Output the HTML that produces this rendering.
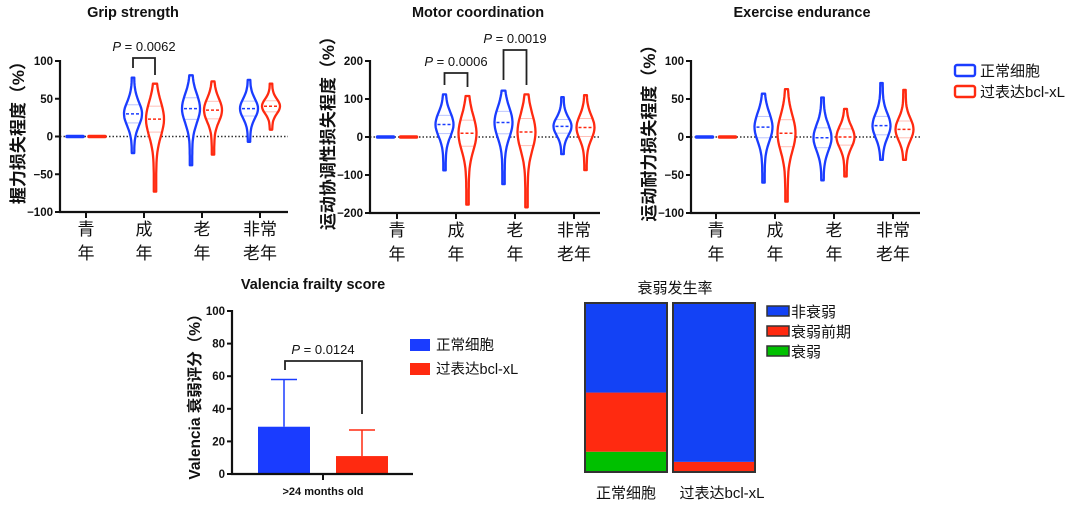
<!DOCTYPE html>
<html><head><meta charset="utf-8">
<style>
html,body{margin:0;padding:0;background:#fff;}
svg{display:block;font-family:"Liberation Sans","Noto Sans CJK SC",sans-serif;}
</style></head>
<body>
<svg id="fig" width="1080" height="505" viewBox="0 0 1080 505" xmlns="http://www.w3.org/2000/svg"></svg>
<script>
// ---- data ----
const ageGroups = [["青","年"],["成","年"],["老","年"],["非常","老年"]];
const gripBlue  = [[-2,2,0],[-22,78,30],[-38,81,37],[-7,75,37]];   // [min,max,median]
const gripRed   = [[-2,2,0],[-73,70,23],[-24,73,35],[9,70,40]];
const motorBlue = [[-4,4,0],[-88,112,33],[-124,122,38],[-45,105,28]];
const motorRed  = [[-4,4,0],[-178,108,10],[-185,112,13],[-87,110,25]];
const endBlue   = [[-2,2,0],[-60,57,13],[-57,52,-1],[-30,71,15]];
const endRed    = [[-2,2,0],[-85,63,5],[-52,37,0],[-30,62,10]];
const gripTicks = [100,50,0,-50,-100];
const motorTicks = [200,100,0,-100,-200];
const endTicks = [100,50,0,-50,-100];
const valenciaGroups = ["正常细胞","过表达bcl-xL"];
const valenciaMean = [29,11];
const valenciaErr = [58,27];
const valenciaTicks = [0,20,40,60,80,100];
const frailCats = ["非衰弱","衰弱前期","衰弱"];
const frailNormal = [53,35,12];
const frailBcl = [94,6,0];

const BLUE="#1a3cff", RED="#ff2a10", GREEN="#00c000", SB="#1342f5";
const svg=document.getElementById('fig');
const NS="http://www.w3.org/2000/svg";
function mk(tag,attrs,parent){const e=document.createElementNS(NS,tag);for(const k in attrs)e.setAttribute(k,attrs[k]);(parent||svg).appendChild(e);return e;}
function txt(s,attrs,parent){const e=mk('text',attrs,parent);e.textContent=s;return e;}

function violinPanel(cfg){
  const g=mk('g',{});
  
  
  const ymax=cfg.ticks[0], ymin=cfg.ticks[cfg.ticks.length-1];
  const Y=v=>cfg.yTop+(ymax-v)/(ymax-ymin)*(cfg.yBot-cfg.yTop);
  const X=i=>cfg.x0+cfg.step*i;
  const t=txt(cfg.title,{x:cfg.titleX,y:17,'text-anchor':'middle','font-size':14.5,'font-weight':'bold',fill:'#111'},g);
  
  const yt=txt(cfg.ytitle,{x:0,y:0,'text-anchor':'middle','font-size':17,'font-weight':'bold',fill:'#111',transform:`translate(${cfg.axisX-36},${(cfg.yTop+cfg.yBot)/2-8}) rotate(-90)`},g);
  
  mk('line',{x1:cfg.axisX,x2:cfg.axisEnd,y1:Y(0),y2:Y(0),stroke:'#333','stroke-width':1.5,'stroke-dasharray':'1.5,2'},g);
  mk('line',{x1:cfg.axisX,x2:cfg.axisX,y1:cfg.yTop-1,y2:cfg.yBot+1,stroke:'#111','stroke-width':2.2},g);
  mk('line',{x1:cfg.axisX-1,x2:cfg.axisEnd,y1:cfg.yBot,y2:cfg.yBot,stroke:'#111','stroke-width':2.2},g);
  cfg.ticks.forEach(v=>{
    mk('line',{x1:cfg.axisX-5,x2:cfg.axisX,y1:Y(v),y2:Y(v),stroke:'#111','stroke-width':2},g);
    const l=txt(v<0?'\u2212'+(-v):String(v),{x:cfg.axisX-7,y:Y(v)+4,'text-anchor':'end','font-size':11.5,'font-weight':'bold',fill:'#111'},g);
    
  });
  ageGroups.forEach((c,i)=>{
    mk('line',{x1:X(i),x2:X(i),y1:cfg.yBot,y2:cfg.yBot+6,stroke:'#111','stroke-width':2},g);
    c.forEach((s,j)=>{
      const l=txt(s,{x:X(i),y:cfg.yBot+23+j*24,'text-anchor':'middle','font-size':17,fill:'#111'},g);
      
    });
  });
  [[cfg.blue,BLUE,-cfg.off],[cfg.red,RED,cfg.off]].forEach(([arr,col,off])=>{
    arr.forEach((d,i)=>{
      const [mn,mx,md]=d, cx=X(i)+off;
      const span=mx-mn;
      if(span<10){
        const p=mk('line',{x1:cx-8,x2:cx+8,y1:Y(md),y2:Y(md),stroke:col,'stroke-width':3.5,'stroke-linecap':'round'},g);
        
        return;
      }
      const s=span/4.5, W=9;
      const pts=[];const N=30;
      for(let k=0;k<=N;k++){const v=mn+span*k/N;const w=1.2+(W-1.2)*Math.exp(-Math.pow((v-md)/s,2));pts.push([cx+w,Y(v)]);}
      for(let k=N;k>=0;k--){const v=mn+span*k/N;const w=1.2+(W-1.2)*Math.exp(-Math.pow((v-md)/s,2));pts.push([cx-w,Y(v)]);}
      const p=mk('path',{d:'M'+pts.map(q=>q[0].toFixed(1)+','+q[1].toFixed(1)).join('L')+'Z',fill:'#fff',stroke:col,'stroke-width':2.3,'stroke-linejoin':'round'},g);
      
      mk('line',{x1:cx-7,x2:cx+7,y1:Y(md),y2:Y(md),stroke:col,'stroke-width':1.5,'stroke-dasharray':'3,2'},g);
      mk('line',{x1:cx-6,x2:cx+6,y1:Y(md+span*0.12),y2:Y(md+span*0.12),stroke:col,'stroke-opacity':0.3,'stroke-width':1},g);
      mk('line',{x1:cx-6,x2:cx+6,y1:Y(md-span*0.12),y2:Y(md-span*0.12),stroke:col,'stroke-opacity':0.3,'stroke-width':1},g);
    });
  });
  (cfg.brackets||[]).forEach(b=>{
    const x1=X(b.i)-cfg.off,x2=X(b.i)+cfg.off;
    mk('path',{d:`M${x1},${b.l}V${b.top}H${x2}V${b.r}`,fill:'none',stroke:'#222','stroke-width':1.8},g);
    const pt=mk('text',{x:(x1+x2)/2,y:b.top-7,'text-anchor':'middle','font-size':13,fill:'#111'},g);
    pt.innerHTML='<tspan font-style="italic">P</tspan> = '+b.p;
    
  });
  return g;
}

violinPanel({name:'grip-strength-chart',title:'Grip strength',titleX:133,ytitle:'握力损失程度（%）',ticks:gripTicks,
  axisX:60,axisEnd:288,yTop:61,yBot:212,x0:86,step:58,off:11,blue:gripBlue,red:gripRed,
  brackets:[{i:1,top:58,l:68,r:75,p:'0.0062'}]});
violinPanel({name:'motor-coordination-chart',title:'Motor coordination',titleX:478,ytitle:'运动协调性损失程度（%）',ticks:motorTicks,
  axisX:370,axisEnd:600,yTop:61,yBot:213,x0:397,step:59,off:11.5,blue:motorBlue,red:motorRed,
  brackets:[{i:1,top:73,l:85,r:87,p:'0.0006'},{i:2,top:50,l:80,r:85,p:'0.0019'}]});
violinPanel({name:'exercise-endurance-chart',title:'Exercise endurance',titleX:802,ytitle:'运动耐力损失程度（%）',ticks:endTicks,
  axisX:691,axisEnd:920,yTop:61,yBot:213,x0:716,step:59,off:11.5,blue:endBlue,red:endRed});

[[BLUE,'正常细胞',71],[RED,'过表达bcl-xL',92]].forEach(([c,s,y])=>{
  const r=mk('rect',{x:955,y:y-6,width:20,height:11,fill:'#fff',stroke:c,'stroke-width':2.4,rx:2});
  
  const t=txt(s,{x:980,y:y+5,'font-size':15,fill:'#111'});
  
});

(function(){
  const g=mk('g',{});
  
  
  const yTop=311,yBot=474,ax=232,axEnd=413;
  const Y=v=>yBot-v/100*(yBot-yTop);
  const t=txt('Valencia frailty score',{x:313,y:289,'text-anchor':'middle','font-size':14.5,'font-weight':'bold',fill:'#111'},g);
  
  const yt=txt('Valencia 衰弱评分（%）',{x:0,y:0,'text-anchor':'middle','font-size':15.5,'font-weight':'bold',fill:'#111',transform:`translate(200,393) rotate(-90)`},g);
  
  const cols=[BLUE,RED],cx=[284,362];
  valenciaMean.forEach((v,i)=>{
    mk('line',{x1:cx[i],x2:cx[i],y1:Y(valenciaErr[i]),y2:Y(v),stroke:cols[i],'stroke-width':1.5},g);
    mk('line',{x1:cx[i]-13,x2:cx[i]+13,y1:Y(valenciaErr[i]),y2:Y(valenciaErr[i]),stroke:cols[i],'stroke-width':1.5},g);
    const b=mk('rect',{x:cx[i]-26,y:Y(v),width:52,height:Y(0)-Y(v),fill:cols[i]},g);
    
  });
  mk('line',{x1:ax,x2:ax,y1:yTop-1,y2:yBot+1,stroke:'#111','stroke-width':2.2},g);
  mk('line',{x1:ax-1,x2:axEnd,y1:yBot,y2:yBot,stroke:'#111','stroke-width':2.2},g);
  mk('line',{x1:323,x2:323,y1:yBot,y2:yBot+6,stroke:'#111','stroke-width':2},g);
  valenciaTicks.forEach(v=>{
    mk('line',{x1:ax-5,x2:ax,y1:Y(v),y2:Y(v),stroke:'#111','stroke-width':2},g);
    const l=txt(String(v),{x:ax-7,y:Y(v)+4,'text-anchor':'end','font-size':11.5,'font-weight':'bold',fill:'#111'},g);
    
  });
  const xl=txt('>24 months old',{x:323,y:495,'text-anchor':'middle','font-size':11,'font-weight':'bold',fill:'#111'},g);
  
  mk('path',{d:'M285,370V361H362V414',fill:'none',stroke:'#222','stroke-width':1.8},g);
  const pt=mk('text',{x:323,y:354,'text-anchor':'middle','font-size':13,fill:'#111'},g);
  pt.innerHTML='<tspan font-style="italic">P</tspan> = 0.0124';
  
  [[BLUE,'正常细胞',345],[RED,'过表达bcl-xL',369]].forEach(([c,s,y])=>{
    const r=mk('rect',{x:410,y:y-6,width:20,height:12,fill:c},g);
    
    const tt=txt(s,{x:436,y:y+5,'font-size':14.5,fill:'#111'},g);
    
  });
})();

(function(){
  const g=mk('g',{});
  
  
  const yTop=303,yBot=472,cols=[SB,RED,GREEN];
  const H=v=>v/100*(yBot-yTop);
  const t=txt('衰弱发生率',{x:675,y:293,'text-anchor':'middle','font-size':15,fill:'#111'},g);
  
  [[frailNormal,585,626],[frailBcl,673,722]].forEach(([arr,x,lx],bi)=>{
    let y=yBot;
    for(let k=arr.length-1;k>=0;k--){
      const h=H(arr[k]);
      if(h>0){const r=mk('rect',{x:x,y:y-h,width:82,height:h,fill:cols[k]},g);
        }
      y-=h;
    }
    mk('rect',{x:x,y:yTop,width:82,height:yBot-yTop,fill:'none',stroke:'#333','stroke-width':2},g);
    const l=txt(valenciaGroups[bi],{x:lx,y:498,'text-anchor':'middle','font-size':15,fill:'#111'},g);
    
  });
  frailCats.forEach((s,k)=>{
    const y=311+k*20;
    const r=mk('rect',{x:767,y:y-5,width:22,height:10,fill:cols[k],stroke:'#333','stroke-width':1.5},g);
    
    const tt=txt(s,{x:791,y:y+6,'font-size':15,fill:'#111'},g);
    
  });
})();
</script>
</body></html>
